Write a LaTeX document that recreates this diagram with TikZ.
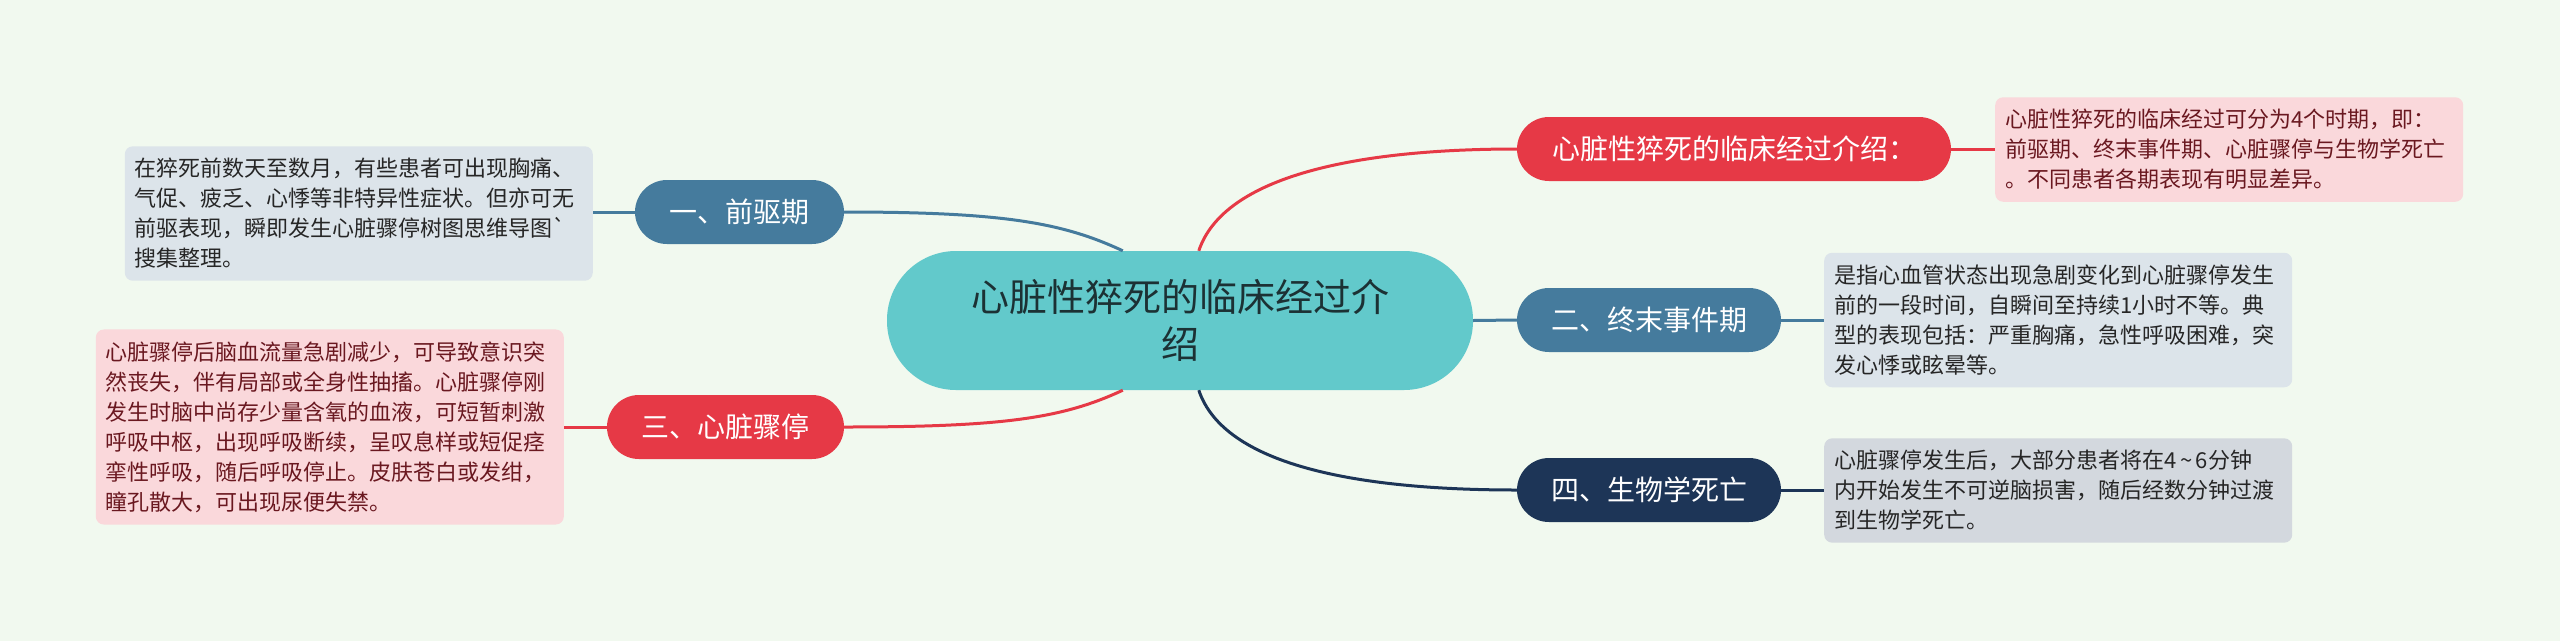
\documentclass[tikz,border=0pt]{standalone}
\usepackage{fontspec}
\newfontfamily\cjk{Noto Sans CJK SC}
\usetikzlibrary{calc}
\definecolor{bgc}{HTML}{F1F9EF}
\definecolor{tealc}{HTML}{62C9CB}
\definecolor{bluec}{HTML}{457B9D}
\definecolor{redc}{HTML}{E63946}
\definecolor{navyc}{HTML}{1D3557}
\definecolor{leafblue}{HTML}{DCE4EA}
\definecolor{leafred}{HTML}{FAD8DB}
\definecolor{leafgray}{HTML}{D3D8DE}
\definecolor{darktext}{HTML}{262626}
\definecolor{redtext}{HTML}{6A1820}
\definecolor{centertext}{HTML}{1C3134}
\begin{document}
\begin{tikzpicture}[x=1pt,y=-1pt,
  centernode/.style={fill=tealc, rounded corners=69pt, minimum width=586pt, minimum height=139pt,
    align=center, inner sep=0pt, text=centertext, font=\cjk\fontsize{38}{47}\selectfont},
  branch/.style={rounded corners=32pt, minimum height=64pt, inner sep=0pt, text=white,
    font=\cjk\fontsize{28}{34}\selectfont},
  leaf/.style={rounded corners=8pt, inner xsep=10pt, inner ysep=12pt, text width=448pt,
    align=left, font=\cjk\fontsize{22}{30}\selectfont},
  conn/.style={line width=3pt}
]
\fill[bgc] (0,0) rectangle (2560,641);
\useasboundingbox (0,0) rectangle (2560,641);

% center
\node[centernode] (c) at (1180,320.5) {心脏性猝死的临床经过介\\绍};

% branches
\node[branch, fill=bluec, minimum width=209pt] (b1) at (739.5,212) {一、前驱期};
\node[branch, fill=redc, minimum width=237pt] (b3) at (725.5,427) {三、心脏骤停};
\node[branch, fill=redc, minimum width=434pt] (b0) at (1734,149) {心脏性猝死的临床经过介绍：};
\node[branch, fill=bluec, minimum width=264pt] (b2) at (1649,320) {二、终末事件期};
\node[branch, fill=navyc, minimum width=264pt] (b4) at (1649,490) {四、生物学死亡};

% leaves
\node[leaf, fill=leafblue, text=darktext, anchor=east] (l1) at (593,213.5)
  {在猝死前数天至数月，有些患者可出现胸痛、\\气促、疲乏、心悸等非特异性症状。但亦可无\\前驱表现，瞬即发生心脏骤停树图思维导图`\\搜集整理。};
\node[leaf, fill=leafred, text=redtext, anchor=east] (l3) at (564,427)
  {心脏骤停后脑血流量急剧减少，可导致意识突\\然丧失，伴有局部或全身性抽搐。心脏骤停刚\\发生时脑中尚存少量含氧的血液，可短暂刺激\\呼吸中枢，出现呼吸断续，呈叹息样或短促痉\\挛性呼吸，随后呼吸停止。皮肤苍白或发绀，\\瞳孔散大，可出现尿便失禁。};
\node[leaf, fill=leafred, text=redtext, anchor=west] (l0) at (1995,149.5)
  {心脏性猝死的临床经过可分为4个时期，即：\\前驱期、终末事件期、心脏骤停与生物学死亡\\。不同患者各期表现有明显差异。};
\node[leaf, fill=leafblue, text=darktext, anchor=west] (l2) at (1824,320)
  {是指心血管状态出现急剧变化到心脏骤停发生\\前的一段时间，自瞬间至持续1小时不等。典\\型的表现包括：严重胸痛，急性呼吸困难，突\\发心悸或眩晕等。};
\node[leaf, fill=leafgray, text=darktext, anchor=west] (l4) at (1824,490.5)
  {心脏骤停发生后，大部分患者将在4\,\textasciitilde\,6分钟\\内开始发生不可逆脑损害，随后经数分钟过渡\\到生物学死亡。};

% connectors center -> branches
\draw[conn, bluec] (b1.east) .. controls +(160,0) and +(-60,-28) .. ([xshift=236pt]c.north west);
\draw[conn, redc] (b3.east) .. controls +(160,0) and +(-60,28) .. ([xshift=236pt]c.south west);
\draw[conn, redc] ([xshift=312pt]c.north west) .. controls +(25,-75) and +(-160,0) .. (b0.west);
\draw[conn, navyc] ([xshift=312pt]c.south west) .. controls +(25,75) and +(-160,0) .. (b4.west);
\draw[conn, bluec] (c.east) -- (b2.west);

% connectors branches -> leaves
\draw[conn, bluec] (b1.west) -- (b1.west -| l1.east);
\draw[conn, redc] (b3.west) -- (b3.west -| l3.east);
\draw[conn, redc] (b0.east) -- (b0.east -| l0.west);
\draw[conn, bluec] (b2.east) -- (b2.east -| l2.west);
\draw[conn, navyc] (b4.east) -- (b4.east -| l4.west);
\end{tikzpicture}
\end{document}
